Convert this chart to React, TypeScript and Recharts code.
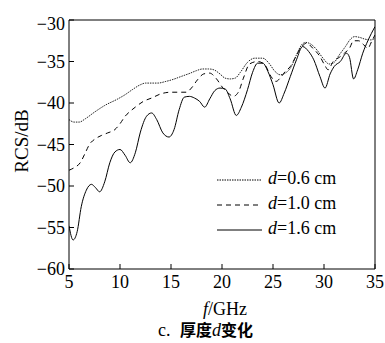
import React from 'react';
import { LineChart, Line, XAxis, YAxis, ReferenceLine } from 'recharts';

// d = 0.6 cm (dotted)
const freq06 = [5, 5.5, 6, 6.6, 7.5, 8.5, 9.8, 10.5, 11.2, 12, 12.5, 13.2, 13.7, 14.5, 15.1, 16, 16.9, 17.5, 18.1, 18.7, 19.2, 19.8, 20.3, 20.8, 21.3, 21.8, 22.5, 23.2, 24, 24.6, 25.2, 25.7, 26.2, 26.7, 27.3, 27.8, 28.2, 28.7, 29.3, 29.9, 30.5, 30.9, 31.5, 32.1, 32.6, 33, 33.5, 34, 34.6, 35];
const rcs06 = [-42.0, -42.3, -42.3, -41.9, -41.1, -40.3, -39.5, -39.0, -38.4, -37.8, -37.6, -37.6, -37.6, -37.4, -37.2, -36.8, -36.4, -36.1, -35.9, -35.9, -36.0, -36.5, -37.0, -37.1, -37.0, -36.3, -35.1, -34.6, -34.6, -35.2, -36.2, -36.6, -36.4, -35.8, -34.2, -33.0, -32.7, -32.9, -33.6, -34.6, -35.3, -35.2, -34.2, -33.2, -32.3, -32.0, -32.1, -32.3, -32.4, -32.2];

// d = 1.0 cm (dashed)
const freq10 = [5, 5.5, 6.1, 6.6, 7, 7.6, 8.2, 8.8, 9.5, 10, 10.5, 11, 11.5, 12.3, 13.1, 14, 15, 16, 16.5, 17, 17.6, 18.2, 18.8, 19.4, 20.1, 20.7, 21.1, 21.6, 22.1, 22.7, 23.5, 24.2, 24.8, 25.3, 25.7, 26.2, 26.7, 27.2, 27.7, 28.3, 28.9, 29.6, 30.1, 30.4, 30.9, 31.5, 32, 32.5, 32.9, 33.4, 33.9, 34.3, 34.7, 35];
const rcs10 = [-48.1, -47.8, -47.2, -46.0, -45.0, -44.3, -43.9, -43.6, -43.2, -42.5, -41.6, -41.0, -40.5, -39.8, -39.4, -38.9, -38.7, -38.7, -38.7, -38.2, -37.2, -36.5, -36.4, -37.0, -38.2, -38.9, -39.2, -38.7, -37.0, -35.3, -35.0, -35.4, -36.8, -37.4, -37.0, -36.2, -35.6, -34.5, -33.4, -32.8, -33.4, -34.4, -35.5, -36.0, -35.0, -34.5, -34.0, -33.4, -32.5, -32.5, -33.0, -33.4, -32.5, -31.8];

// d = 1.6 cm (solid)
const freq16 = [5, 5.4, 5.8, 6.2, 6.7, 7.2, 7.6, 8, 8.5, 9, 9.5, 10, 10.5, 11, 11.5, 12, 12.6, 13.1, 13.6, 14.2, 14.8, 15.3, 15.8, 16.3, 16.8, 17.3, 17.8, 18.3, 18.8, 19.3, 19.8, 20.3, 20.8, 21.4, 21.9, 22.5, 23, 23.5, 24, 24.5, 25, 25.6, 26.1, 26.7, 27.3, 27.9, 28.5, 29, 29.6, 30.1, 30.6, 31, 31.6, 32.2, 32.5, 32.9, 33.3, 33.8, 34.3, 35];
const rcs16 = [-54.8, -56.5, -55.5, -52.5, -50.5, -49.8, -50.2, -50.7, -49.5, -47.2, -45.9, -45.6, -46.3, -47.2, -46.0, -43.5, -41.6, -41.2, -42.0, -43.6, -44.1, -43.2, -40.8, -39.3, -39.2, -39.4, -39.8, -40.5, -39.5, -38.5, -38.2, -38.3, -39.5, -41.5, -40.5, -38.4, -36.3, -35.2, -35.2, -36.2, -37.8, -40.0, -38.8, -36.8, -34.8, -33.2, -33.8, -34.8, -36.8, -38.2, -36.5, -35.6, -35.0, -34.0, -34.5, -37.1, -36.0, -34.0, -32.5, -30.8];

const xTicks = [5, 10, 15, 20, 25, 30, 35];
const yTicks = [-60, -55, -50, -45, -40, -35, -30];

const legendItems = [
  { label: '=0.6 cm', dash: '1.5 1' },
  { label: '=1.0 cm', dash: '5 4' },
  { label: '=1.6 cm', dash: undefined },
];

const toRows = (fs: number[], vs: number[]) => fs.map((f, i) => ({ f, v: vs[i] }));

const serif = '"Liberation Serif", "Times New Roman", serif';
const cjk = '"Noto Sans CJK SC", sans-serif';

const YTick = (props: any) => {
  const { x, y, payload } = props;
  const shift = payload.value === -30 ? 4 : 0;
  return (
    <text x={x} y={y + shift} dy="0.355em" textAnchor="end" fontSize={18} fill="#000" style={{ fontFamily: serif }}>
      {String(payload.value).replace('-', '\u2212')}
    </text>
  );
};

const XTick = (props: any) => {
  const { x, y, payload } = props;
  return (
    <text x={x} y={y} dy="0.71em" textAnchor="middle" fontSize={18} fill="#000" style={{ fontFamily: serif }}>
      {payload.value}
    </text>
  );
};

export default function App() {
  return (
    <div style={{ position: 'absolute', left: 0, top: 0, width: 385, height: 343, background: '#fff' }}>
      <LineChart width={385} height={343} margin={{ top: 20, right: 10, bottom: 0, left: 0 }}>
        <XAxis
          type="number"
          dataKey="f"
          domain={[5, 35]}
          ticks={xTicks}
          allowDataOverflow
          height={74}
          tickSize={-5}
          tickMargin={11}
          stroke="#000"
          tick={<XTick />}
        />
        <YAxis
          type="number"
          domain={[-60, -30]}
          ticks={yTicks}
          allowDataOverflow
          width={69}
          tickSize={-5}
          tickMargin={9}
          stroke="#000"
          tick={<YTick />}
        />
        <ReferenceLine y={-30} stroke="#000" />
        <ReferenceLine x={35} stroke="#000" />
        <Line data={toRows(freq06, rcs06)} dataKey="v" type="monotone" stroke="#222" strokeWidth={1} strokeDasharray="1.5 1" dot={false} activeDot={false} isAnimationActive={false} />
        <Line data={toRows(freq10, rcs10)} dataKey="v" type="monotone" stroke="#000" strokeWidth={1} strokeDasharray="5 4" dot={false} activeDot={false} isAnimationActive={false} />
        <Line data={toRows(freq16, rcs16)} dataKey="v" type="monotone" stroke="#000" strokeWidth={1} dot={false} activeDot={false} isAnimationActive={false} />
      </LineChart>
      <svg width={385} height={343} style={{ position: 'absolute', left: 0, top: 0, pointerEvents: 'none' }}>
        <text x={28} y={141} transform="rotate(-90 28 141)" textAnchor="middle" fontSize={19} fill="#000" style={{ fontFamily: serif }}>RCS/dB</text>
        <text x={225} y={315} textAnchor="middle" fontSize={18} fill="#000" style={{ fontFamily: serif }}>
          <tspan fontStyle="italic">f</tspan>/GHz
        </text>
        <text y={336} fontSize={16} fill="#000">
          <tspan x={158} style={{ fontFamily: serif }} fontSize={18}>c.</tspan>
          <tspan x={180} style={{ fontFamily: cjk }} fontWeight={700}>厚度</tspan>
          <tspan style={{ fontFamily: serif }} fontStyle="italic" fontSize={18}>d</tspan>
          <tspan style={{ fontFamily: cjk }} fontWeight={700}>变化</tspan>
        </text>
        {legendItems.map((it, i) => {
          const base = 184 + i * 25;
          return (
            <g key={it.label}>
              <line x1={217} x2={262} y1={base - 4} y2={base - 4} stroke="#000" strokeWidth={1} strokeDasharray={it.dash} />
              <text x={268} y={base} fontSize={18} fill="#000" style={{ fontFamily: serif }}>
                <tspan fontStyle="italic">d</tspan>{it.label}
              </text>
            </g>
          );
        })}
      </svg>
    </div>
  );
}
